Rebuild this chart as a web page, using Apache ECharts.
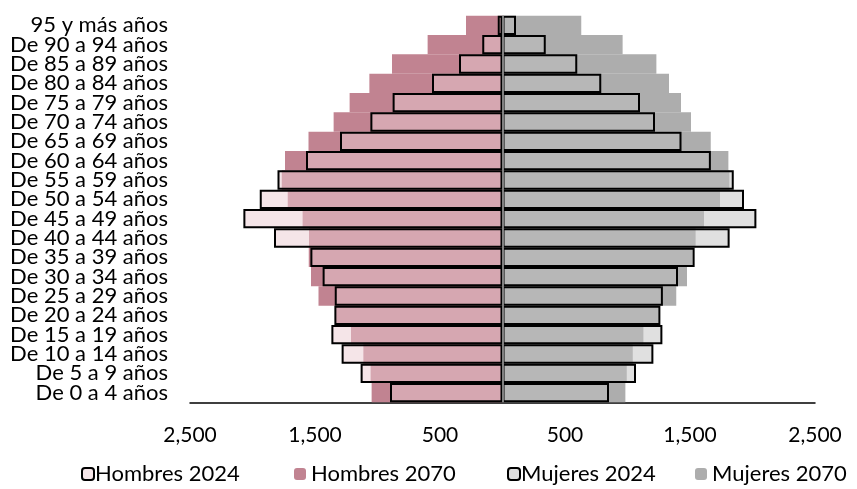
<!DOCTYPE html>
<html>
<head>
<meta charset="utf-8">
<script src="https://cdn.jsdelivr.net/npm/echarts@6/dist/echarts.min.js"></script>
<style>
html,body{margin:0;padding:0;background:#fff;}
#chart{width:857px;height:489px;}
</style>
</head>
<body>
<div id="chart"></div>
<script>
const categories = ["De 0 a 4 años","De 5 a 9 años","De 10 a 14 años","De 15 a 19 años","De 20 a 24 años","De 25 a 29 años","De 30 a 34 años","De 35 a 39 años","De 40 a 44 años","De 45 a 49 años","De 50 a 54 años","De 55 a 59 años","De 60 a 64 años","De 65 a 69 años","De 70 a 74 años","De 75 a 79 años","De 80 a 84 años","De 85 a 89 años","De 90 a 94 años","95 y más años"];
const hombres2024 = [900,1135,1287,1369,1345,1342,1439,1537,1828,2073,1942,1800,1572,1300,1057,879,564,348,162,38];
const hombres2070 = [1047,1055,1113,1212,1335,1472,1532,1550,1548,1599,1718,1766,1740,1552,1351,1223,1065,884,599,292];
const mujeres2024 = [852,1068,1207,1279,1263,1283,1404,1537,1817,2031,1932,1850,1667,1432,1220,1100,790,598,346,108];
const mujeres2070 = [983,994,1042,1127,1250,1390,1476,1521,1545,1612,1740,1815,1807,1666,1508,1428,1332,1231,961,630];
const seriesNames = ["Hombres 2024","Hombres 2070","Mujeres 2024","Mujeres 2070"];

const FONT = 'Lato';
const chart = echarts.init(document.getElementById('chart'), null, {renderer:'canvas'});
const neg = a => a.map(v => -v);
const legendBase = {
  top: 463, itemWidth: 12, itemHeight: 12, itemGap: 0, padding: 0,
  textStyle: {fontFamily: FONT, fontSize: 22, color: '#000', padding: [0,0,0,-4]},
  selectedMode: false
};
chart.setOption({
  animation: false,
  grid: {left: 190, right: 42, top: 15.7, bottom: 86.7, containLabel: false},
  legend: [
    Object.assign({}, legendBase, {left: 81, data: [seriesNames[0]]}),
    Object.assign({}, legendBase, {left: 294, data: [seriesNames[1]],
      textStyle: Object.assign({}, legendBase.textStyle, {padding: [0,0,0,0]})}),
    Object.assign({}, legendBase, {left: 507, data: [seriesNames[2]]}),
    Object.assign({}, legendBase, {left: 695, data: [seriesNames[3]],
      textStyle: Object.assign({}, legendBase.textStyle, {padding: [0,0,0,0]})})
  ],
  xAxis: {
    type: 'value', min: -2500, max: 2500, interval: 1000,
    axisLine: {show: true, lineStyle: {color: '#000', width: 1.5}},
    axisTick: {show: false},
    splitLine: {show: false},
    axisLabel: {
      margin: 22, fontFamily: FONT, fontSize: 21, color: '#000',
      formatter: v => Math.abs(v).toLocaleString('en-US')
    }
  },
  yAxis: {
    type: 'category', data: categories,
    axisLine: {show: false, onZero: false},
    axisTick: {show: false},
    splitLine: {show: false},
    axisLabel: {interval: 0, margin: 22, fontFamily: FONT, fontSize: 22, color: '#000', lineHeight: 20}
  },
  series: [
    {name: seriesNames[1], type: 'bar', data: neg(hombres2070), barGap: '-100%', barCategoryGap: '0%',
     itemStyle: {color: '#c18391'}, z: 2},
    {name: seriesNames[3], type: 'bar', data: mujeres2070, barGap: '-100%', barCategoryGap: '0%',
     itemStyle: {color: '#adadad'}, z: 2},
    {name: seriesNames[0], type: 'bar', data: neg(hombres2024), barGap: '-100%', barCategoryGap: '0%',
     itemStyle: {color: 'rgba(235,203,209,0.5)', borderColor: '#000', borderWidth: 2}, z: 3},
    {name: seriesNames[2], type: 'bar', data: mujeres2024, barGap: '-100%', barCategoryGap: '0%',
     itemStyle: {color: 'rgba(193,193,193,0.5)', borderColor: '#000', borderWidth: 2}, z: 3,
     markLine: {silent: true, symbol: 'none', label: {show: false}, z: 5,
       lineStyle: {color: '#808080', width: 2, type: 'solid'}, data: [{xAxis: 0}]}}
  ]
});
</script>
</body>
</html>
